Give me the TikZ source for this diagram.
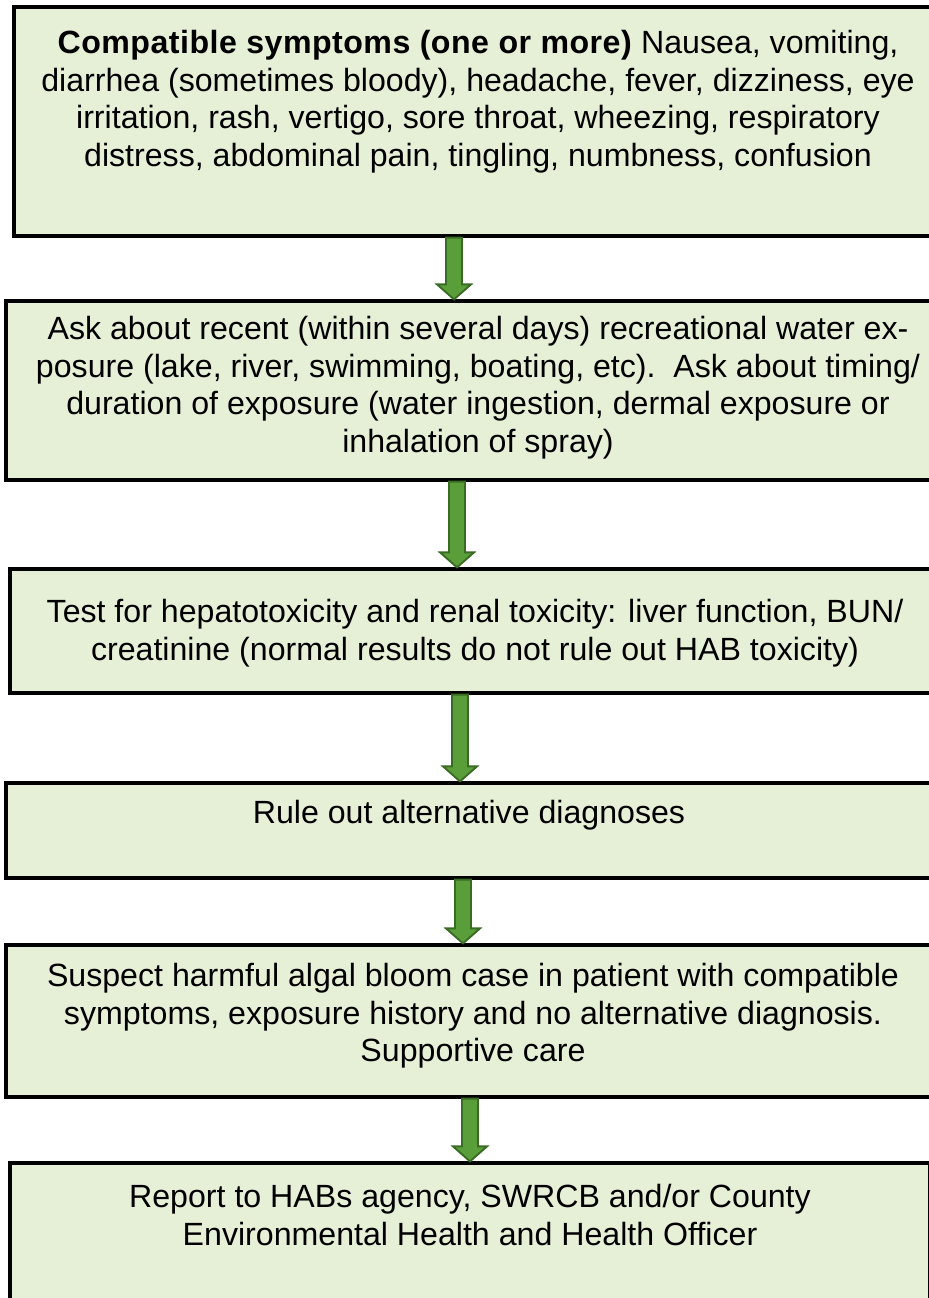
\documentclass[tikz,border=0pt]{standalone}
\usepackage{fontspec}
\setmainfont{Liberation Sans}
\usetikzlibrary{calc,fit}
\definecolor{BoxGreen}{HTML}{E6F0D7}
\definecolor{ArrowGreen}{HTML}{5A9E3A}
\definecolor{ArrowGreenDark}{HTML}{3A6B25}

\begin{document}
\begin{tikzpicture}[x=0.75pt,y=-0.75pt,
  stepbox/.style={draw=black,line width=2.4pt,fill=BoxGreen,inner sep=0pt},
  steptext/.style={anchor=north,align=center,inner sep=0pt,
    font=\fontsize{24.1}{28.2}\selectfont},
  blockarrow/.style={draw=ArrowGreenDark,fill=ArrowGreen,line width=1.4pt,
    to path={($(\tikztostart)+(-8,0)$) -- ($(\tikztostart)+(8,0)$)
      -- ($(\tikztotarget)+(8,-15)$) -- ($(\tikztotarget)+(17,-15)$)
      -- (\tikztotarget) -- ($(\tikztotarget)+(-17,-15)$)
      -- ($(\tikztotarget)+(-8,-15)$) -- cycle}}]
  \useasboundingbox (0,0) rectangle (928,1298);

  % boxes
  \node[stepbox,fit={(14,7) (942,236)}] (symptoms) {};
  \node[stepbox,fit={(6,301) (950,480)}] (exposure) {};
  \node[stepbox,fit={(10,569) (940,693)}] (tests) {};
  \node[stepbox,fit={(6,783) (932,878)}] (ruleout) {};
  \node[stepbox,fit={(6,945) (940,1097)}] (suspect) {};
  \node[stepbox,fit={(10,1163) (930,1320)}] (report) {};

  % texts
  \node[steptext] (symptomstxt) at (478,30) {\textbf{\addfontfeature{LetterSpace=1.5}Compatible symptoms (one or more)} Nausea, vomiting,\\
    diarrhea (sometimes bloody), headache, fever, dizziness, eye\\
    irritation, rash, vertigo, sore throat, wheezing, respiratory\\
    distress, abdominal pain, tingling, numbness, confusion};
  \node[steptext] (exposuretxt) at (478,316) {Ask about recent (within several days) recreational water ex-\\
    posure (lake, river, swimming, boating, etc).\ \ Ask about timing/\\
    duration of exposure (water ingestion, dermal exposure or\\
    inhalation of spray)};
  \node[steptext] (teststxt) at (475,599) {Test for hepatotoxicity and renal toxicity: liver function, BUN/\\
    creatinine (normal results do not rule out HAB toxicity)};
  \node[steptext] (ruleouttxt) at (469,800) {Rule out alternative diagnoses};
  \node[steptext] (suspecttxt) at (473,963) {Suspect harmful algal bloom case in patient with compatible\\
    symptoms, exposure history and no alternative diagnosis.\\
    Supportive care};
  \node[steptext] (reporttxt) at (470,1184) {Report to HABs agency, SWRCB and/or County\\
    Environmental Health and Health Officer};

  % arrows
  \draw[blockarrow] (454,0 |- symptoms.south) to (454,0 |- exposure.north);
  \draw[blockarrow] (457,0 |- exposure.south) to (457,0 |- tests.north);
  \draw[blockarrow] (460,0 |- tests.south) to (460,0 |- ruleout.north);
  \draw[blockarrow] (463,0 |- ruleout.south) to (463,0 |- suspect.north);
  \draw[blockarrow] (470,0 |- suspect.south) to (470,0 |- report.north);
\end{tikzpicture}
\end{document}
